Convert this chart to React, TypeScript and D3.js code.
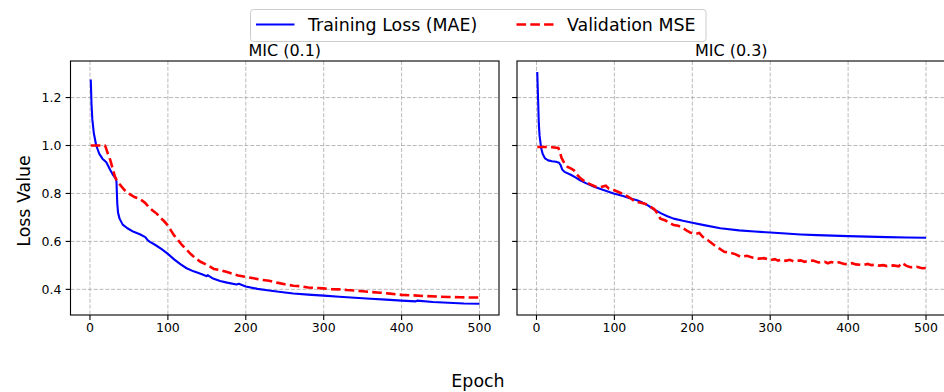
import { useEffect, useRef } from 'react'
import * as d3 from 'd3'

// MIC (0.1) - training loss (MAE)
const trainEpochs01 = [1, 2, 3, 5, 8, 12, 16, 21, 26, 30, 33, 34, 35, 36, 38, 42, 48, 56, 64, 71, 74, 77, 84, 92, 100, 108, 116, 124, 133, 142, 150, 151, 158, 167, 176, 188, 191, 200, 215, 230, 245, 261, 280, 300, 320, 340, 360, 380, 400, 418, 420, 440, 460, 480, 500];
const trainLoss01 = [1.275, 1.17, 1.11, 1.05, 1.0, 0.965, 0.945, 0.93, 0.898, 0.875, 0.862, 0.85, 0.76, 0.72, 0.695, 0.67, 0.655, 0.64, 0.63, 0.618, 0.605, 0.598, 0.585, 0.568, 0.548, 0.525, 0.505, 0.488, 0.475, 0.465, 0.455, 0.459, 0.445, 0.435, 0.428, 0.42, 0.423, 0.412, 0.402, 0.395, 0.389, 0.383, 0.378, 0.374, 0.369, 0.365, 0.361, 0.357, 0.353, 0.35, 0.353, 0.347, 0.344, 0.341, 0.340];

// MIC (0.1) - validation MSE
const valEpochs01 = [1, 5, 10, 15, 19, 20, 23, 26, 29, 32, 35, 39, 44, 48, 52, 57, 62, 67, 71, 75, 80, 86, 90, 95, 99, 104, 108, 112, 118, 124, 130, 136, 142, 148, 154, 159, 165, 170, 176, 183, 190, 200, 210, 220, 230, 240, 250, 261, 270, 280, 290, 300, 310, 320, 330, 340, 350, 360, 373, 385, 400, 415, 430, 445, 460, 475, 490, 500];
const valLoss01 = [1.0, 1.0, 1.0, 1.0, 1.0, 0.995, 0.965, 0.94, 0.905, 0.87, 0.85, 0.835, 0.815, 0.805, 0.795, 0.785, 0.78, 0.77, 0.76, 0.745, 0.73, 0.715, 0.70, 0.685, 0.67, 0.645, 0.625, 0.61, 0.585, 0.565, 0.545, 0.528, 0.515, 0.505, 0.495, 0.485, 0.482, 0.478, 0.472, 0.465, 0.458, 0.452, 0.446, 0.44, 0.436, 0.428, 0.421, 0.415, 0.413, 0.408, 0.406, 0.404, 0.401, 0.400, 0.397, 0.395, 0.392, 0.389, 0.386, 0.382, 0.377, 0.375, 0.372, 0.370, 0.368, 0.367, 0.366, 0.366];

// MIC (0.3) - training loss (MAE)
const trainEpochs03 = [1, 2, 3, 4, 6, 8, 11, 15, 20, 25, 29, 31, 33, 36, 44, 50, 56, 64, 74, 86, 99, 110, 120, 129, 136, 143, 151, 160, 168, 176, 188, 200, 215, 236, 260, 280, 300, 320, 339, 360, 380, 400, 425, 450, 475, 500];
const trainLoss03 = [1.307, 1.2, 1.09, 1.04, 0.99, 0.965, 0.946, 0.938, 0.934, 0.932, 0.928, 0.918, 0.9, 0.89, 0.878, 0.867, 0.855, 0.842, 0.828, 0.814, 0.80, 0.79, 0.78, 0.772, 0.762, 0.75, 0.733, 0.717, 0.705, 0.695, 0.686, 0.678, 0.668, 0.655, 0.646, 0.641, 0.637, 0.633, 0.629, 0.626, 0.624, 0.622, 0.620, 0.618, 0.616, 0.615];

// MIC (0.3) - validation MSE
const valEpochs03 = [1, 10, 20, 28, 30, 32, 36, 40, 44, 48, 52, 57, 62, 68, 76, 82, 89, 93, 99, 106, 114, 120, 127, 133, 140, 146, 151, 155, 159, 165, 171, 176, 182, 188, 193, 198, 205, 209, 213, 220, 228, 235, 241, 248, 255, 262, 270, 278, 285, 292, 300, 306, 310, 315, 320, 325, 330, 339, 344, 348, 355, 362, 370, 374, 378, 383, 388, 395, 400, 405, 410, 420, 425, 430, 436, 440, 445, 450, 458, 465, 469, 475, 480, 488, 495, 500];
const valLoss03 = [0.994, 0.994, 0.993, 0.99, 0.975, 0.95, 0.925, 0.911, 0.905, 0.897, 0.878, 0.862, 0.85, 0.84, 0.828, 0.826, 0.832, 0.82, 0.814, 0.805, 0.793, 0.782, 0.765, 0.762, 0.756, 0.745, 0.735, 0.718, 0.695, 0.688, 0.677, 0.668, 0.665, 0.655, 0.645, 0.636, 0.632, 0.635, 0.62, 0.605, 0.585, 0.57, 0.557, 0.553, 0.547, 0.536, 0.54, 0.532, 0.528, 0.53, 0.522, 0.526, 0.52, 0.524, 0.519, 0.523, 0.517, 0.521, 0.515, 0.518, 0.52, 0.512, 0.515, 0.509, 0.514, 0.51, 0.513, 0.506, 0.505, 0.509, 0.504, 0.502, 0.506, 0.501, 0.503, 0.499, 0.501, 0.497, 0.5, 0.496, 0.51, 0.498, 0.492, 0.494, 0.488, 0.489];

const xTicks = [0, 100, 200, 300, 400, 500];
const yTicks = [0.4, 0.6, 0.8, 1.0, 1.2];

const panels = [
  { title: 'MIC (0.1)', trainX: trainEpochs01, trainY: trainLoss01, valX: valEpochs01, valY: valLoss01, left: 70.5, right: 499, showYLabels: true },
  { title: 'MIC (0.3)', trainX: trainEpochs03, trainY: trainLoss03, valX: valEpochs03, valY: valLoss03, left: 517, right: 945.5, showYLabels: false }
];

const FONT = 'DejaVu Sans, sans-serif';

const App = () => {
  const ref = useRef<HTMLDivElement>(null);

  useEffect(() => {
    d3.select(ref.current).selectAll('*').remove();

    const width = 944, height = 392;
    const top = 61, bottom = 315;

    const svg = d3.select(ref.current)
      .append('svg')
      .attr('width', width)
      .attr('height', height)
      .style('position', 'absolute')
      .style('left', '0px')
      .style('top', '0px')
      .style('font-family', FONT);

    svg.append('rect').attr('width', width).attr('height', height).attr('fill', '#fff');

    const y = d3.scaleLinear().domain([0.293, 1.3525]).range([bottom, top]);

    panels.forEach(p => {
      const x = d3.scaleLinear().domain([-25, 525]).range([p.left, p.right]);
      const g = svg.append('g');

      // grid
      g.selectAll('.vgrid').data(xTicks).enter().append('line')
        .attr('x1', d => x(d)).attr('x2', d => x(d))
        .attr('y1', top).attr('y2', bottom)
        .attr('stroke', '#a8a8a8').attr('stroke-width', 0.8)
        .attr('stroke-dasharray', '4,1.8');
      g.selectAll('.hgrid').data(yTicks).enter().append('line')
        .attr('x1', p.left).attr('x2', p.right)
        .attr('y1', d => y(d)).attr('y2', d => y(d))
        .attr('stroke', '#a8a8a8').attr('stroke-width', 0.8)
        .attr('stroke-dasharray', '4,1.8');

      const line = d3.line<[number, number]>()
        .x(d => x(d[0]))
        .y(d => y(d[1]));

      const trainPts = p.trainX.map((e, i) => [e, p.trainY[i]] as [number, number]);
      const valPts = p.valX.map((e, i) => [e, p.valY[i]] as [number, number]);

      g.append('path')
        .attr('d', line(trainPts))
        .attr('fill', 'none')
        .attr('stroke', '#0000ff')
        .attr('stroke-width', 2.1)
        .attr('stroke-linejoin', 'round');

      g.append('path')
        .attr('d', line(valPts))
        .attr('fill', 'none')
        .attr('stroke', '#ff0000')
        .attr('stroke-width', 2.6)
        .attr('stroke-dasharray', '9.6,4.2');

      // spines
      g.append('rect')
        .attr('x', p.left).attr('y', top)
        .attr('width', p.right - p.left).attr('height', bottom - top)
        .attr('fill', 'none').attr('stroke', '#000').attr('stroke-width', 1.1);

      // x ticks
      g.selectAll('.xtick').data(xTicks).enter().append('line')
        .attr('x1', d => x(d)).attr('x2', d => x(d))
        .attr('y1', bottom).attr('y2', bottom + 4.9)
        .attr('stroke', '#000').attr('stroke-width', 1.1);
      g.selectAll('.xlabel').data(xTicks).enter().append('text')
        .attr('x', d => x(d)).attr('y', bottom + 16.5)
        .attr('text-anchor', 'middle')
        .style('font-size', '12.5px')
        .text(d => d);

      // y ticks
      g.selectAll('.ytick').data(yTicks).enter().append('line')
        .attr('x1', p.left - 4.9).attr('x2', p.left)
        .attr('y1', d => y(d)).attr('y2', d => y(d))
        .attr('stroke', '#000').attr('stroke-width', 1.1);
      if (p.showYLabels) {
        g.selectAll('.ylabel').data(yTicks).enter().append('text')
          .attr('x', p.left - 9).attr('y', d => y(d))
          .attr('dy', '0.36em')
          .attr('text-anchor', 'end')
          .style('font-size', '12.5px')
          .text(d => d.toFixed(1));
      }

      g.append('text')
        .attr('x', (p.left + p.right) / 2).attr('y', 55.5)
        .attr('text-anchor', 'middle')
        .style('font-size', '16px')
        .text(p.title);
    });

    // axis labels
    svg.append('text')
      .attr('x', 478).attr('y', 386.5)
      .attr('text-anchor', 'middle')
      .style('font-size', '17.4px')
      .text('Epoch');

    svg.append('text')
      .attr('transform', 'translate(30,201) rotate(-90)')
      .attr('text-anchor', 'middle')
      .style('font-size', '17.4px')
      .text('Loss Value');

    // legend
    const legend = svg.append('g');
    legend.append('rect')
      .attr('x', 250.5).attr('y', 9.5)
      .attr('width', 455.5).attr('height', 32)
      .attr('rx', 3)
      .attr('fill', '#fff').attr('stroke', '#cccccc').attr('stroke-width', 1);
    legend.append('line')
      .attr('x1', 256).attr('x2', 294.5).attr('y1', 24.5).attr('y2', 24.5)
      .attr('stroke', '#0000ff').attr('stroke-width', 2.1);
    legend.append('text')
      .attr('x', 308).attr('y', 31)
      .style('font-size', '17.4px')
      .text('Training Loss (MAE)');
    legend.append('line')
      .attr('x1', 516.5).attr('x2', 553.5).attr('y1', 24.5).attr('y2', 24.5)
      .attr('stroke', '#ff0000').attr('stroke-width', 2.6)
      .attr('stroke-dasharray', '9.6,4.2');
    legend.append('text')
      .attr('x', 567).attr('y', 31)
      .style('font-size', '17.4px')
      .text('Validation MSE');
  }, []);

  return <div ref={ref} />;
};

export default App;
